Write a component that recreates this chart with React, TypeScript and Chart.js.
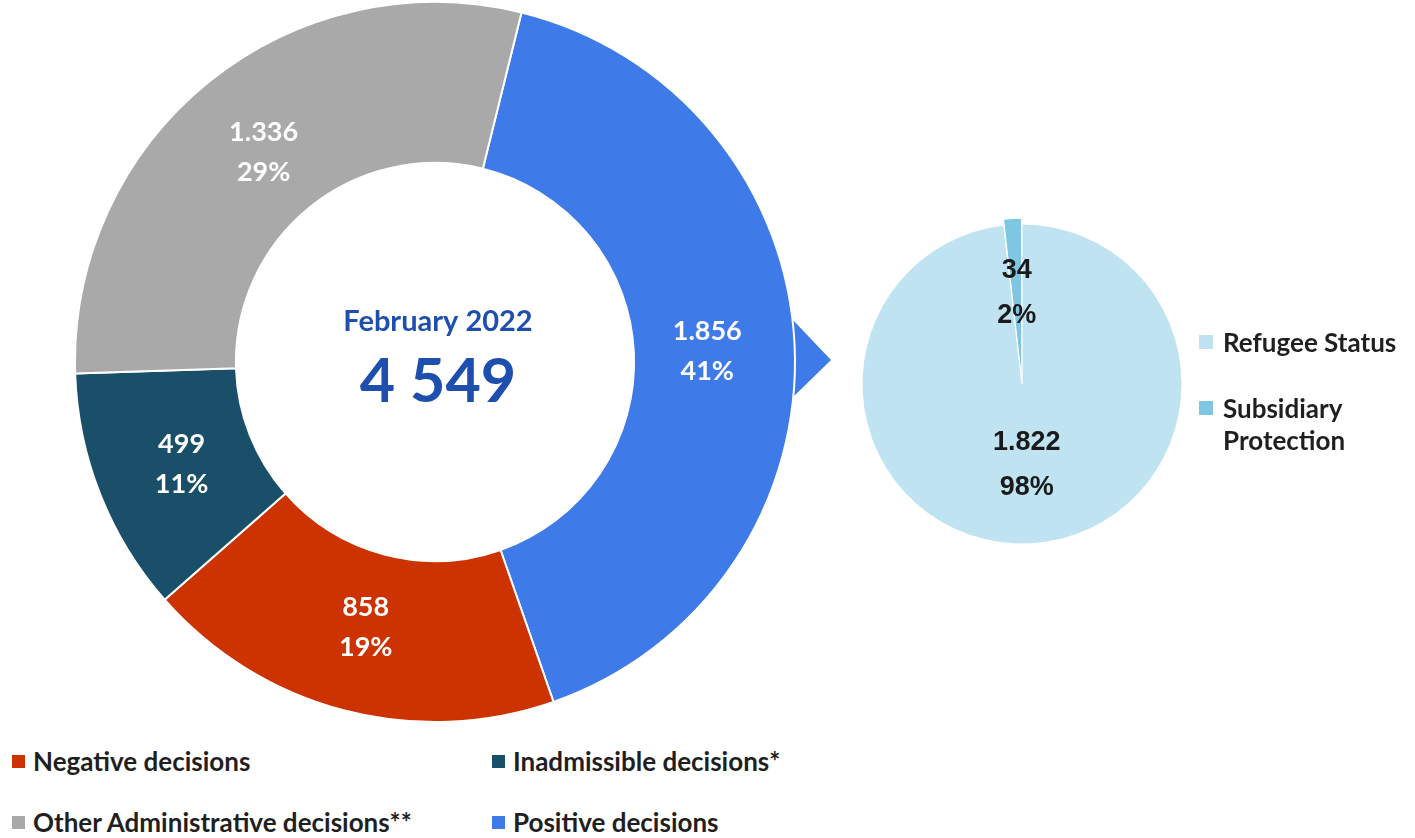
import React, { useEffect, useRef } from "react";
import { Chart, registerables } from "chart.js";

Chart.register(...registerables);

const decisionLabels = [
  "Positive decisions",
  "Negative decisions",
  "Inadmissible decisions*",
  "Other Administrative decisions**",
];
const decisionValues = [1856, 858, 499, 1336];
const decisionColors = ["#3F7BE8", "#CC3300", "#1A4F69", "#A9A9A9"];
const legendOrder = [1, 2, 3, 0];

const protectionLabels = ["Refugee Status", "Subsidiary Protection"];
const protectionValues = [1822, 34];
const protectionColors = ["#C0E3F2", "#7EC6E2"];

const periodLabel = "February 2022";

const LATO = "Lato, 'Open Sans', sans-serif";
const ARIAL = "'Liberation Sans', Arial, sans-serif";

function fmtDot(v: number): string {
  return String(v).replace(/\B(?=(\d{3})+(?!\d))/g, ".");
}
function fmtSpace(v: number): string {
  return String(v).replace(/\B(?=(\d{3})+(?!\d))/g, " ");
}

export default function App() {
  const donutRef = useRef<HTMLCanvasElement | null>(null);
  const pieRef = useRef<HTMLCanvasElement | null>(null);

  useEffect(() => {
    const total = decisionValues.reduce((a, b) => a + b, 0);
    const donutPlugin = {
      id: "donutDecor",
      beforeDatasetsDraw(chart: any) {
        const ctx = chart.ctx;
        const arc = chart.getDatasetMeta(0).data[0] as any;
        const cx = arc.x;
        const cy = arc.y;
        const R = arc.outerRadius;
        ctx.save();
        ctx.fillStyle = decisionColors[0];
        ctx.beginPath();
        ctx.moveTo(cx + R - 4, cy - 44);
        ctx.lineTo(cx + R + 36, cy - 2);
        ctx.lineTo(cx + R - 4, cy + 37);
        ctx.closePath();
        ctx.fill();
        ctx.restore();
      },
      afterDatasetsDraw(chart: any) {
        const ctx = chart.ctx;
        const meta = chart.getDatasetMeta(0);
        ctx.save();
        ctx.textAlign = "center";
        ctx.textBaseline = "middle";
        ctx.fillStyle = "#FFFFFF";
        ctx.font = `bold 27px ${LATO}`;
        meta.data.forEach((el: any, i: number) => {
          const p = el.getProps(["x", "y", "startAngle", "endAngle", "innerRadius", "outerRadius"], true);
          const mid = (p.startAngle + p.endAngle) / 2;
          const r = (p.innerRadius + p.outerRadius) / 2 - 7;
          const px = p.x + Math.cos(mid) * r;
          const py = p.y + Math.sin(mid) * r + 2;
          const v = decisionValues[i];
          ctx.fillText(fmtDot(v), px, py - 20);
          ctx.fillText(Math.round((v / total) * 100) + "%", px, py + 20);
        });
        const first = meta.data[0] as any;
        ctx.fillStyle = "#1F4FAE";
        ctx.font = `bold 29px ${LATO}`;
        ctx.fillText(periodLabel, first.x + 3, first.y - 40);
        ctx.font = `bold 61px ${LATO}`;
        ctx.fillText(fmtSpace(total), first.x + 3, first.y + 20);
        ctx.restore();
      },
    };

    const donut = new Chart(donutRef.current as HTMLCanvasElement, {
      type: "doughnut",
      data: {
        labels: decisionLabels,
        datasets: [
          {
            data: decisionValues,
            backgroundColor: decisionColors,
            borderColor: "#FFFFFF",
            borderWidth: 2,
            radius: 360,
          } as any,
        ],
      },
      options: {
        responsive: false,
        animation: false,
        cutout: "55.3%",
        rotation: 13.9,
        layout: { padding: 0 },
        plugins: { legend: { display: false }, tooltip: { enabled: false } },
      },
      plugins: [donutPlugin],
    });

    const ptotal = protectionValues.reduce((a, b) => a + b, 0);
    const piePlugin = {
      id: "pieLabels",
      afterDatasetsDraw(chart: any) {
        const ctx = chart.ctx;
        const meta = chart.getDatasetMeta(0);
        ctx.save();
        ctx.textAlign = "center";
        ctx.textBaseline = "middle";
        ctx.fillStyle = "#1A1A1A";
        ctx.font = `bold 27px ${ARIAL}`;
        const radii = [81, 92];
        meta.data.forEach((el: any, i: number) => {
          const p = el.getProps(["startAngle", "endAngle"], true);
          const mid = (p.startAngle + p.endAngle) / 2;
          const cx = chart.chartArea.left + chart.chartArea.width / 2;
          const cy = chart.chartArea.top + chart.chartArea.height / 2;
          const px = cx + Math.cos(mid) * radii[i];
          const py = cy + Math.sin(mid) * radii[i];
          const v = protectionValues[i];
          ctx.fillText(fmtDot(v), px, py - 22);
          ctx.fillText(Math.round((v / ptotal) * 100) + "%", px, py + 23);
        });
        ctx.restore();
      },
    };

    const pie = new Chart(pieRef.current as HTMLCanvasElement, {
      type: "pie",
      data: {
        labels: protectionLabels,
        datasets: [
          {
            data: protectionValues,
            backgroundColor: protectionColors,
            borderColor: "#FFFFFF",
            borderWidth: 1,
            offset: [0, 12],
            radius: 160,
          } as any,
        ],
      },
      options: {
        responsive: false,
        animation: false,
        layout: { padding: 0 },
        plugins: { legend: { display: false }, tooltip: { enabled: false } },
      },
      plugins: [piePlugin],
    });

    return () => {
      donut.destroy();
      pie.destroy();
    };
  }, []);

  const legendText: React.CSSProperties = {
    fontFamily: LATO,
    fontWeight: 700,
    fontSize: 26,
    color: "#1F1F1F",
    whiteSpace: "nowrap",
    lineHeight: "32px",
  };

  const bottomPos = [
    { left: 12, top: 745 },
    { left: 492, top: 745 },
    { left: 12, top: 806 },
    { left: 492, top: 806 },
  ];

  return (
    <div
      style={{
        position: "absolute",
        left: 0,
        top: 0,
        width: 1415,
        height: 838,
        overflow: "hidden",
        background: "#FFFFFF",
      }}
    >
      <canvas
        ref={donutRef}
        width={870}
        height={724}
        style={{ position: "absolute", left: 0, top: 0 }}
      />
      <canvas
        ref={pieRef}
        width={360}
        height={368}
        style={{ position: "absolute", left: 842, top: 200 }}
      />
      {legendOrder.map((idx, k) => (
        <div
          key={idx}
          style={{
            position: "absolute",
            left: bottomPos[k].left,
            top: bottomPos[k].top,
            display: "flex",
            alignItems: "center",
            ...legendText,
          }}
        >
          <span
            style={{
              display: "inline-block",
              width: 13,
              height: 13,
              background: decisionColors[idx],
              marginRight: 8,
            }}
          />
          <span>{decisionLabels[idx]}</span>
        </div>
      ))}
      <div style={{ position: "absolute", left: 1199, top: 326, ...legendText }}>
        <div style={{ display: "flex", alignItems: "center" }}>
          <span
            style={{
              display: "inline-block",
              width: 14,
              height: 14,
              background: protectionColors[0],
              marginRight: 10,
            }}
          />
          <span>{protectionLabels[0]}</span>
        </div>
      </div>
      <div style={{ position: "absolute", left: 1199, top: 392, ...legendText }}>
        <div style={{ display: "flex", alignItems: "flex-start" }}>
          <span
            style={{
              display: "inline-block",
              width: 14,
              height: 14,
              background: protectionColors[1],
              marginRight: 10,
              marginTop: 9,
            }}
          />
          <span>
            Subsidiary
            <br />
            Protection
          </span>
        </div>
      </div>
    </div>
  );
}
